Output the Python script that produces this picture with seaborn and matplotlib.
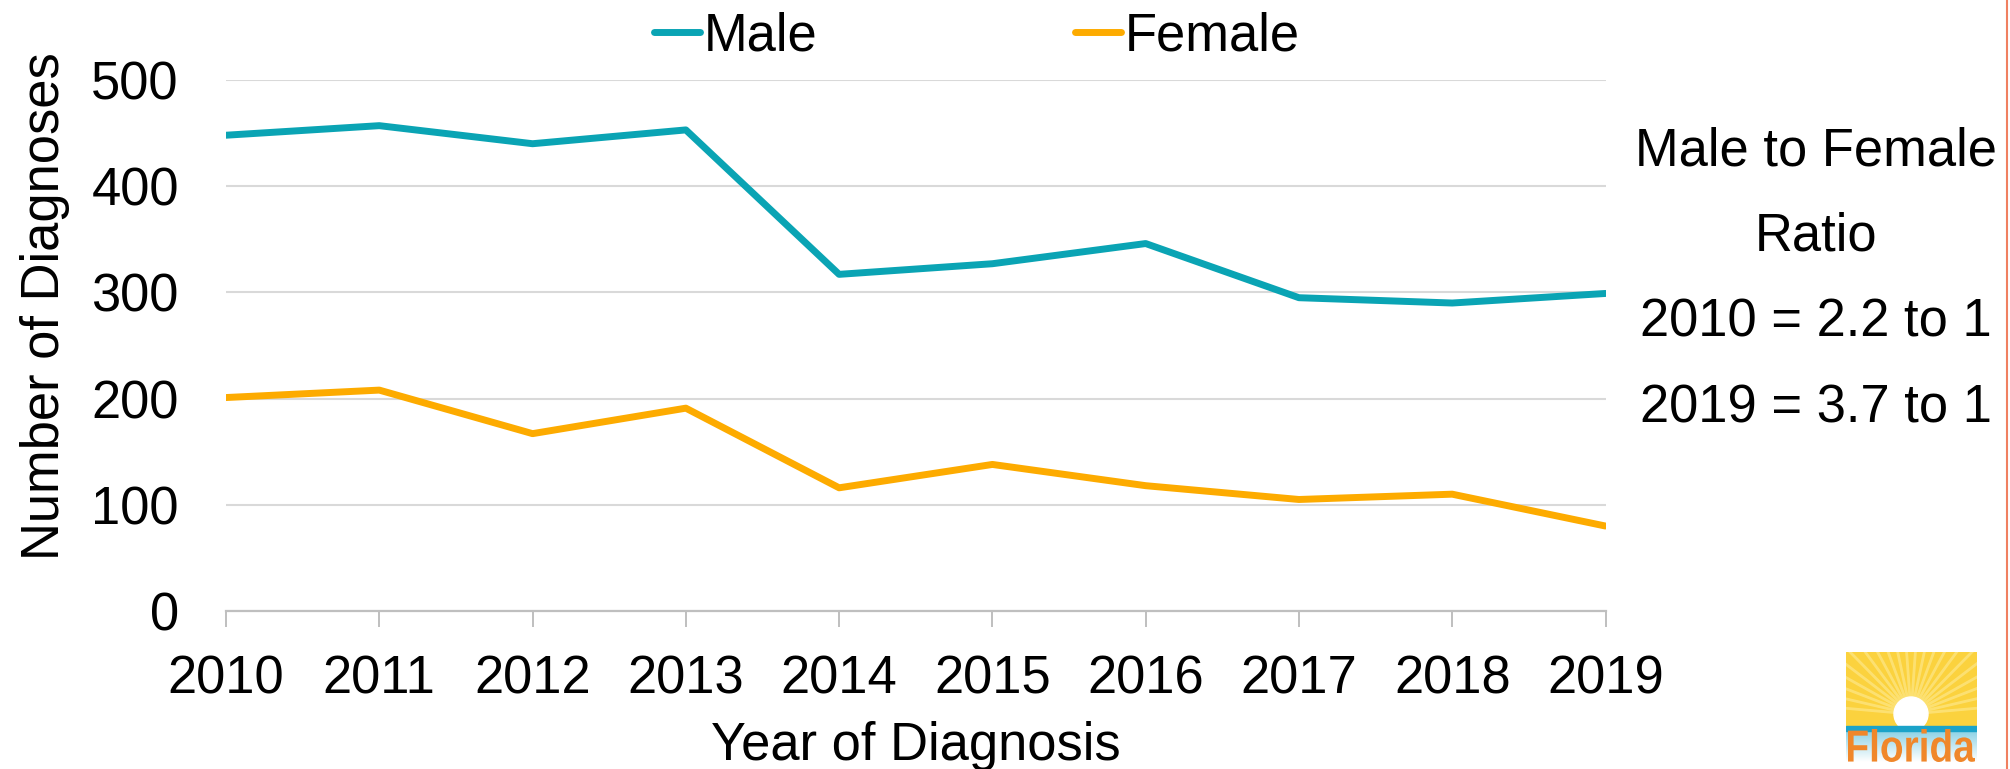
import numpy as np
import pandas as pd
import matplotlib
matplotlib.use("Agg")
import matplotlib.pyplot as plt
import seaborn as sns
from matplotlib.patches import Circle, Rectangle, PathPatch
from matplotlib.lines import Line2D
from matplotlib.textpath import TextPath
from matplotlib.font_manager import FontProperties
from matplotlib.transforms import Affine2D

# data
years = [2010, 2011, 2012, 2013, 2014, 2015, 2016, 2017, 2018, 2019]
male = [448, 457, 440, 453, 317, 327, 346, 295, 290, 299]
female = [201, 208, 167, 191, 116, 138, 118, 105, 110, 80]
y_ticks = [0, 100, 200, 300, 400, 500]
ratio_lines = ["Male to Female", "Ratio", "2010 = 2.2 to 1", "2019 = 3.7 to 1"]

MALE_COLOR = "#0AA4B4"
FEMALE_COLOR = "#FDAB00"
FS = 37.8

sns.set_style("white")
plt.rcParams['font.family'] = ['Liberation Sans', 'DejaVu Sans']
plt.rcParams['text.color'] = 'black'
plt.rcParams['axes.labelcolor'] = 'black'
plt.rcParams['xtick.labelcolor'] = 'black'
plt.rcParams['ytick.labelcolor'] = 'black'

df = pd.DataFrame({"Year": years * 2,
                   "Diagnoses": male + female,
                   "Sex": ["Male"] * len(years) + ["Female"] * len(years)})

fig = plt.figure(figsize=(20.1, 7.69), dpi=100)
ax = fig.add_axes([226 / 2010, 1 - 611 / 769, (1605.5 - 226) / 2010, (611 - 80) / 769])

sns.lineplot(data=df, x="Year", y="Diagnoses", hue="Sex",
             palette={"Male": MALE_COLOR, "Female": FEMALE_COLOR},
             linewidth=5, ax=ax, legend=False, zorder=3)

ax.set_xlim(2010, 2019)
ax.set_ylim(0, 500)
ax.set_xticks(years)
ax.set_yticks(y_ticks)
ax.yaxis.grid(True, color="#d9d9d9", linewidth=1.5)
ax.xaxis.grid(False)
for s in ["top", "right", "left"]:
    ax.spines[s].set_visible(False)
ax.spines["bottom"].set_color("#bfbfbf")
ax.spines["bottom"].set_linewidth(1.6)
ax.tick_params(axis="x", which="major", length=11.5, width=1.4, color="#bfbfbf",
               pad=20, labelsize=FS, bottom=True, labelcolor="black")
ax.tick_params(axis="y", length=0, pad=34, labelsize=FS, labelcolor="black")

ax.set_xlabel("Year of Diagnosis", fontsize=FS, labelpad=12, color="black")
ax.set_ylabel("Number of Diagnoses", fontsize=FS, color="black")
ax.yaxis.set_label_coords(-0.113, 0.574)

handles = [Line2D([], [], color=MALE_COLOR, linewidth=5),
           Line2D([], [], color=FEMALE_COLOR, linewidth=5)]
fig.legend(handles, ["Male", "Female"], loc="center left",
           bbox_to_anchor=(654 / 2010, 1 - 36.5 / 769), ncol=2, frameon=False,
           fontsize=FS, handlelength=0.87, handletextpad=0.08, columnspacing=4.9,
           borderpad=0, borderaxespad=0, labelcolor="black")

# ratio annotation on the right
for i, line in enumerate(ratio_lines):
    fig.text(1816 / 2010, 1 - (165 + i * 85.7) / 769, line, ha="center",
             va="baseline", fontsize=FS, color="black")

# thin border line on right edge
fig.add_artist(Line2D([2007 / 2010, 2007 / 2010], [0, 1], transform=fig.transFigure,
                      color="#F08060", linewidth=1.5))

# Florida Health logo (simplified)
lax = fig.add_axes([1846 / 2010, 0, (1977 - 1846) / 2010, (769 - 652) / 769])
lax.axis("off")
lax.add_patch(Rectangle((0, 0), 131, 74, color="#FBD23E", zorder=1))
cx, cy = 65, 62
for ang in np.linspace(5, 175, 22):
    a = np.deg2rad(ang)
    lax.plot([cx, cx + 160 * np.cos(a)], [cy, cy - 160 * np.sin(a)],
             color="#FEEB94", linewidth=2.0, alpha=0.6, zorder=2)
lax.add_patch(Circle((cx, cy), 17, color="white", zorder=3))
grad = np.linspace(0, 1, 50).reshape(-1, 1)
lax.imshow(grad, cmap=matplotlib.colors.LinearSegmentedColormap.from_list(
    "sea", ["#8ED3E6", "#FFFFFF"]), extent=(0, 131, 110, 79), aspect="auto", zorder=1)
lax.add_patch(Rectangle((0, 74), 131, 5, color="#1BA3C9", zorder=4))

# logo word squeezed into its box
tp = TextPath((0, 0), "Florida", size=10,
              prop=FontProperties(family="Liberation Sans", weight="bold"))
ext = tp.get_extents()
sx = 127 / ext.width
sy = 33 / ext.height
tr = Affine2D().translate(-ext.x0, -ext.y0).scale(sx, -sy).translate(2, 762 - 652)
lax.add_patch(PathPatch(tr.transform_path(tp), color="#F0872A", lw=0, zorder=5))
lax.set_xlim(0, 131)
lax.set_ylim(117, 0)

fig.savefig("out.png", dpi=100)
